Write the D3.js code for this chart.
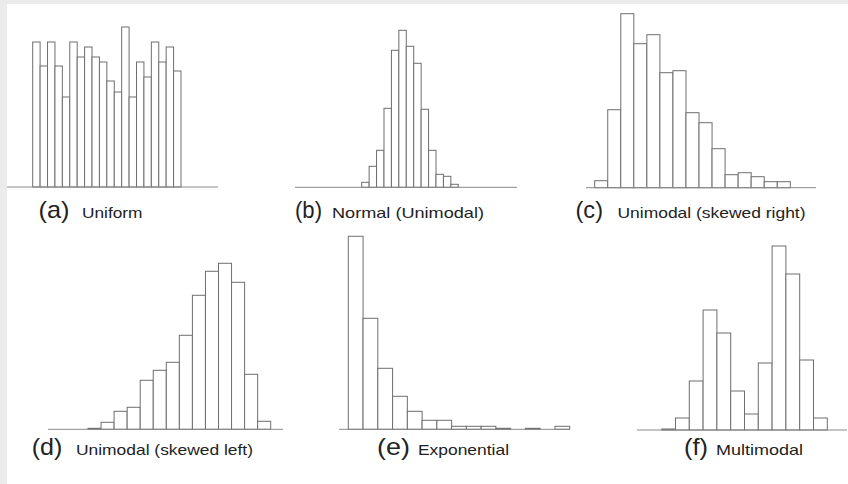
<!DOCTYPE html>
<html>
<head>
<meta charset="utf-8">
<script src="https://cdn.jsdelivr.net/npm/d3@7"></script>
<style>
  html, body { margin: 0; padding: 0; background: #ffffff; }
  #chart { width: 848px; height: 484px; }
  text { font-family: "Liberation Sans", Arial, Helvetica, sans-serif; fill: #222222; }
</style>
</head>
<body>
<div id="chart"></div>
<script>
// Bin frequencies (arbitrary count units)
const uniformCounts   = [145, 121, 145, 121, 90, 145, 130, 140, 130, 125, 106, 95, 160, 90, 125, 110, 145, 125, 140, 116];
const normalCounts    = [5, 21, 37, 79, 137, 157, 141, 124, 78, 37, 13, 11, 3];
const skewRightCounts = [7, 78, 174, 144, 153, 115, 117, 75, 65, 39, 13, 15, 11, 6, 6];
const skewLeftCounts  = [1, 7, 18, 22, 49, 59, 67, 94, 134, 158, 166, 147, 55, 8];
const expCounts       = [193, 111, 61, 33, 18, 9, 9, 3, 3, 3, 1, 0, 1, 0, 3];
const multiCounts     = [1, 12, 49, 120, 97, 39, 16, 67, 184, 156, 70, 12];

// Panel captions
const panelTags  = ["(a)", "(b)", "(c)", "(d)", "(e)", "(f)"];
const panelNames = ["Uniform", "Normal (Unimodal)", "Unimodal (skewed right)",
                    "Unimodal (skewed left)", "Exponential", "Multimodal"];

const W = 848, H = 484;

// Layout of each small histogram (axis line, bar span, caption placement)
const layout = [
  {base: 187,   axis: [7, 218],   bars: [32.7, 181],    tag: [38.5, 31],   name: [82, 60.5],   cap: 217.5},
  {base: 187.3, axis: [295, 517], bars: [361.7, 458.3], tag: [295, 27],    name: [332, 152],   cap: 217.5},
  {base: 187.7, axis: [586, 816], bars: [594.7, 790.3], tag: [575.5, 27.5], name: [617.5, 188], cap: 217.5},
  {base: 429.3, axis: [48, 283],  bars: [88, 270.7],    tag: [31.7, 30.6], name: [76, 177],    cap: 455},
  {base: 429.3, axis: [339, 570], bars: [348.3, 569.7], tag: [377, 33],    name: [418, 91],    cap: 455},
  {base: 430,   axis: [637, 847], bars: [661.7, 827.3], tag: [684, 24],    name: [716, 87],    cap: 455}
];

const datasets = [uniformCounts, normalCounts, skewRightCounts, skewLeftCounts, expCounts, multiCounts];

const svg = d3.select("#chart")
  .append("svg")
  .attr("width", W)
  .attr("height", H);

// Light gray frame strips on top and left edges
svg.append("rect").attr("x", 0).attr("y", 0).attr("width", W).attr("height", 4).attr("fill", "#ebebeb");
svg.append("rect").attr("x", 0).attr("y", 0).attr("width", 7).attr("height", H).attr("fill", "#ebebeb");

datasets.forEach((counts, i) => {
  const L = layout[i];
  const g = svg.append("g");

  const x = d3.scaleLinear()
    .domain([0, counts.length])
    .range(L.bars);

  const y = d3.scaleLinear()
    .domain([0, 200])
    .range([L.base, L.base - 200]);

  // Bars (empty bins are skipped)
  g.selectAll("rect.bar")
    .data(counts.map((c, k) => ({bin: k, count: c})).filter(d => d.count > 0))
    .enter()
    .append("rect")
    .attr("class", "bar")
    .attr("x", d => x(d.bin))
    .attr("width", d => x(d.bin + 1) - x(d.bin))
    .attr("y", d => y(d.count))
    .attr("height", d => y(0) - y(d.count))
    .attr("fill", "#ffffff")
    .attr("stroke", "#6e6e6e")
    .attr("stroke-width", 1);

  // Horizontal axis line
  g.append("line")
    .attr("x1", L.axis[0])
    .attr("x2", L.axis[1])
    .attr("y1", y(0))
    .attr("y2", y(0))
    .attr("stroke", "#8a8a8a")
    .attr("stroke-width", 1);

  // Caption: large letter tag + smaller name
  g.append("text")
    .attr("x", L.tag[0])
    .attr("y", L.cap)
    .attr("font-size", "24px")
    .attr("textLength", L.tag[1])
    .attr("lengthAdjust", "spacingAndGlyphs")
    .text(panelTags[i]);

  g.append("text")
    .attr("x", L.name[0])
    .attr("y", L.cap)
    .attr("font-size", "14.5px")
    .attr("textLength", L.name[1])
    .attr("lengthAdjust", "spacingAndGlyphs")
    .text(panelNames[i]);
});
</script>
</body>
</html>
